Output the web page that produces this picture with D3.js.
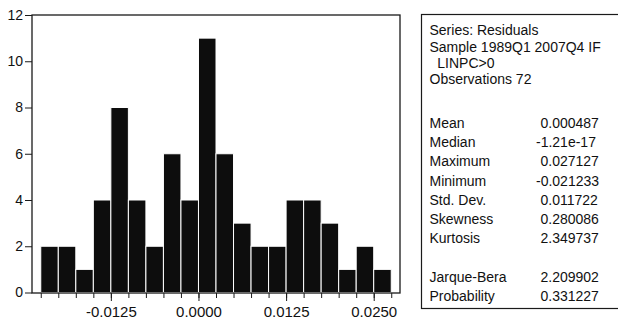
<!DOCTYPE html>
<html>
<head>
<meta charset="utf-8">
<script src="https://cdn.jsdelivr.net/npm/d3@7"></script>
<style>
  body { margin: 0; background: #fff; }
  svg text { font-family: Arial, "Liberation Sans", sans-serif; fill: #111; }
</style>
</head>
<body>
<svg id="chart" width="618" height="320"></svg>
<script>
// histogram of residuals, bin lower edges and counts
const binStarts = [-0.0225, -0.02, -0.0175, -0.015, -0.0125, -0.01, -0.0075, -0.005, -0.0025, 0,
  0.0025, 0.005, 0.0075, 0.01, 0.0125, 0.015, 0.0175, 0.02, 0.0225, 0.025];
const counts = [2, 2, 1, 4, 8, 4, 2, 6, 4, 11, 6, 3, 2, 2, 4, 4, 3, 1, 2, 1];
const binWidth = 0.0025;
const xTickValues = [-0.0125, 0, 0.0125, 0.025];
const yTickValues = [0, 2, 4, 6, 8, 10, 12];

const headerLines = ['Series: Residuals', 'Sample 1989Q1 2007Q4 IF', '  LINPC>0', 'Observations 72'];
const statLabels = ['Mean', 'Median', 'Maximum', 'Minimum', 'Std. Dev.', 'Skewness', 'Kurtosis', '', 'Jarque-Bera', 'Probability'];
const statValues = ['0.000487', '-1.21e-17', '0.027127', '-0.021233', '0.011722', '0.280086', '2.349737', '', '2.209902', '0.331227'];

const svg = d3.select('#chart');

const x = d3.scaleLinear().domain([-0.02375, 0.02875]).range([32, 400]);
const y = d3.scaleLinear().domain([0, 12]).range([292.5, 15]);

// bars
svg.append('g')
  .selectAll('rect')
  .data(counts)
  .join('rect')
  .attr('x', (d, i) => x(binStarts[i]))
  .attr('width', (d, i) => x(binStarts[i] + binWidth) - x(binStarts[i]))
  .attr('y', d => y(d))
  .attr('height', d => y(0) - y(d))
  .attr('fill', '#0d0d0d')
  .attr('stroke', '#fff')
  .attr('stroke-width', 1);

// frame around plot
svg.append('rect')
  .attr('x', 32).attr('y', 15)
  .attr('width', 368).attr('height', 278)
  .attr('fill', 'none')
  .attr('stroke', '#1a1a1a')
  .attr('stroke-width', 1.3);

// y axis
const yAxis = svg.append('g')
  .attr('transform', 'translate(32,0)')
  .call(d3.axisLeft(y).tickValues(yTickValues).tickSize(7).tickPadding(2).tickFormat(d3.format('d')));
yAxis.select('.domain').remove();
yAxis.selectAll('text').style('font-size', '14px');
yAxis.selectAll('line').attr('stroke', '#1a1a1a');

// x axis: minor ticks at bin edges, major labelled ticks
const edges = binStarts.concat([binStarts[binStarts.length - 1] + binWidth]);
const xMinor = svg.append('g')
  .attr('transform', 'translate(0,293)')
  .call(d3.axisBottom(x).tickValues(edges).tickSize(5).tickFormat(''));
xMinor.select('.domain').remove();
xMinor.selectAll('line').attr('stroke', '#1a1a1a');

const xAxis = svg.append('g')
  .attr('transform', 'translate(0,293)')
  .call(d3.axisBottom(x).tickValues(xTickValues).tickSize(8).tickPadding(5).tickFormat(d => d.toFixed(4)));
xAxis.select('.domain').remove();
xAxis.selectAll('text').style('font-size', '15px');
xAxis.selectAll('line').attr('stroke', '#1a1a1a');

// stats box
svg.append('rect')
  .attr('x', 421.5).attr('y', 14.5)
  .attr('width', 220).attr('height', 294)
  .attr('fill', 'none')
  .attr('stroke', '#1a1a1a')
  .attr('stroke-width', 1.2);

const headerY = [35, 52, 68, 84];
svg.append('g')
  .selectAll('text')
  .data(headerLines)
  .join('text')
  .attr('x', 429.5)
  .attr('y', (d, i) => headerY[i])
  .attr('xml:space', 'preserve')
  .style('white-space', 'pre')
  .style('font-size', '14px')
  .text(d => d);

const statY = d3.scaleLinear().domain([0, 9]).range([128, 301]);
svg.append('g')
  .selectAll('text')
  .data(statLabels)
  .join('text')
  .attr('x', 429.5)
  .attr('y', (d, i) => statY(i))
  .style('font-size', '14px')
  .text(d => d);

svg.append('g')
  .selectAll('text')
  .data(statValues)
  .join('text')
  .attr('x', d => d.startsWith('-') ? 536 : 540.5)
  .attr('y', (d, i) => statY(i))
  .style('font-size', '14px')
  .text(d => d);
</script>
</body>
</html>
